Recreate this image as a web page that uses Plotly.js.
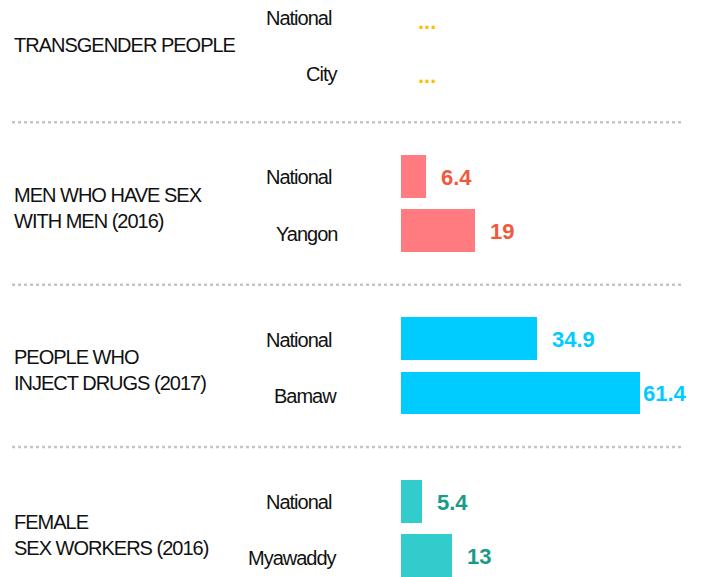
<!DOCTYPE html>
<html>
<head>
<meta charset="utf-8">
<script src="https://cdn.plot.ly/plotly-3.0.1.min.js"></script>
<style>
html,body{margin:0;padding:0;background:#fff;}
#chart{width:705px;height:577px;}
text.annotation-text[style*="Liberation Sans"]{letter-spacing:-1px;}
</style>
</head>
<body>
<div id="chart"></div>
<script>
// ---- data ----
const groups = ["TRANSGENDER PEOPLE", "MEN WHO HAVE SEX<br>WITH MEN (2016)", "PEOPLE WHO<br>INJECT DRUGS (2017)", "FEMALE<br>SEX WORKERS (2016)"];
const subLabels = [["National", "City"], ["National", "Yangon"], ["National", "Bamaw"], ["National", "Myawaddy"]];
const values = [[null, null], [6.4, 19], [34.9, 61.4], [5.4, 13]];
const valueText = [["...", "..."], ["6.4", "19"], ["34.9", "61.4"], ["5.4", "13"]];
const barColors = ["#FFC000", "#FF7B7F", "#00CCFF", "#33CCCC"];
const textColors = ["#FFC000", "#F05A3C", "#00CCFF", "#1A9A88"];

const labelFont = "Liberation Sans, Arial, sans-serif";
const valueFont = "Arial, Helvetica, sans-serif";
const traces = [];
const annotations = [];
const shapes = [];
const maxVal = Math.max(...values.flat().filter(v => v != null));

groups.forEach((g, gi) => {
  const ys = [gi * 3, gi * 3 + 1];
  traces.push({
    type: "bar", orientation: "h",
    x: values[gi].map(v => v == null ? 0 : v),
    y: ys, width: 0.79,
    marker: {color: barColors[gi], line: {width: 0}},
    hoverinfo: "skip", showlegend: false
  });
  ys.forEach((y, si) => {
    const v = values[gi][si];
    annotations.push({
      x: v == null ? 0 : v, y: y, xref: "x", yref: "y",
      text: "<b>" + valueText[gi][si] + "</b>",
      showarrow: false, xanchor: "left", yanchor: "middle",
      xshift: v === maxVal ? 1 : (v == null ? 15 : 13),
      yshift: v == null ? -7 : -1,
      font: {family: valueFont, size: 22, color: textColors[gi]}
    });
    annotations.push({
      x: 0, y: y, xref: "x", yref: "y",
      text: subLabels[gi][si], showarrow: false,
      xanchor: "right", yanchor: "middle",
      xshift: si === 0 ? -67 : -62,
      yshift: (si === 0 ? -1 : -3) + (gi === 0 ? -3 : 0),
      font: {family: labelFont, size: 20, color: "#111"}
    });
  });
  annotations.push({
    x: -1.314, y: gi * 3 + 0.5, xref: "paper", yref: "y",
    text: groups[gi], showarrow: false, align: "left",
    xanchor: "left", yanchor: "middle", yshift: gi === 3 ? -7 : -4,
    font: {family: labelFont, size: 20, color: "#111"}
  });
  if (gi > 0) {
    shapes.push({
      type: "line", xref: "paper", yref: "y",
      x0: -1.314, x1: 0.95, y0: gi * 3 - 1, y1: gi * 3 - 1,
      line: {color: "#C4C4C4", width: 2.5, dash: "dot"}
    });
  }
});

const layout = {
  width: 705, height: 577,
  margin: {l: 401, r: 8, t: 0, b: 0},
  paper_bgcolor: "#fff", plot_bgcolor: "#fff",
  xaxis: {range: [0, 76], visible: false, fixedrange: true},
  yaxis: {range: [10.4, -0.26], visible: false, fixedrange: true},
  annotations: annotations, shapes: shapes,
  showlegend: false, bargap: 0
};
Plotly.newPlot("chart", traces, layout, {displayModeBar: false, staticPlot: true});
</script>
</body>
</html>
